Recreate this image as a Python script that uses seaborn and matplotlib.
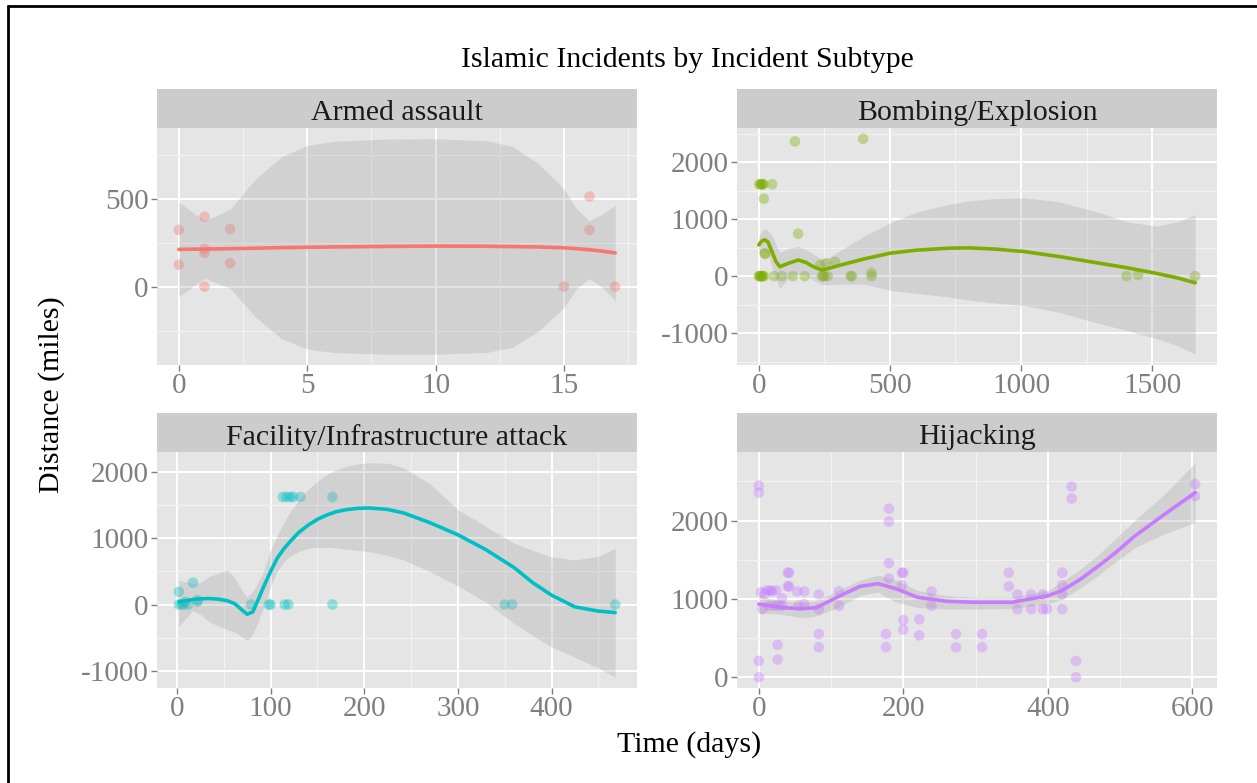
import numpy as np
import pandas as pd
import seaborn as sns
import matplotlib.pyplot as plt
from matplotlib.lines import Line2D
from matplotlib.ticker import MultipleLocator

# --- Armed assault ---
aa_x = [0, 0, 1, 1, 1, 1, 2, 2, 15, 16, 16, 17]
aa_y = [323, 125, 398, 215, 192, 0, 329, 133, 0, 513, 323, 0]
aa_sx = [0, 1, 2, 3, 4, 5, 6, 8, 10, 12, 13, 14, 15, 15.5, 16, 16.5, 17]
aa_fit = [212, 214, 216, 219, 222, 224, 226, 229, 231, 230, 228, 226, 221, 216, 210, 202, 192]
aa_hi = [481, 375, 442, 615, 740, 804, 827, 840, 842, 831, 798, 702, 558, 442, 375, 413, 465]
aa_lo = [-58, 48, -10, -175, -296, -356, -375, -385, -385, -375, -345, -255, -120, -10, 45, -5, -80]

# --- Bombing/Explosion ---
bo_x = [2, 6, 10, 14, 18, 51, 19, 22, 25, 138, 398, 150, 0, 3, 6, 9, 12, 15, 20,
        58, 88, 130, 175, 240, 245, 250, 262, 350, 355, 430, 430, 233, 255, 291,
        1402, 1446, 1664]
bo_y = [1612, 1612, 1612, 1612, 1612, 1612, 1358, 402, 390, 2363, 2410, 744,
        0, 0, 0, 0, 0, 0, 0, 0, 0, 0, 0, 0, 0, 0, 0, 0, 0, 0, 59, 195, 224, 254,
        0, 18, 0]
bo_sx = [0, 10, 22, 35, 50, 65, 80, 110, 150, 180, 210, 240, 270, 300, 400, 500,
         600, 721, 800, 900, 1012, 1150, 1303, 1400, 1520, 1600, 1664]
bo_fit = [549, 610, 638, 600, 430, 260, 165, 220, 283, 240, 160, 106, 140, 180,
          300, 402, 455, 490, 496, 475, 431, 340, 224, 150, 45, -35, -118]
bo_hi = [700, 780, 830, 800, 720, 560, 420, 480, 520, 470, 380, 300, 330, 420,
         700, 933, 1120, 1258, 1320, 1360, 1376, 1300, 1110, 960, 874, 960, 1081]
bo_lo = [400, 440, 450, 400, 150, -60, -220, -50, 40, 10, -80, -150, -150, -140,
         -140, -248, -300, -366, -420, -470, -514, -640, -839, -950, -1100, -1230, -1370]

# --- Facility/Infrastructure attack ---
fa_x = [2, 2, 5, 7, 9, 12, 17, 22, 22, 79, 98, 100, 115, 119, 113, 117, 121, 124,
        132, 166, 166, 350, 358, 468]
fa_y = [193, 0, 0, 0, 40, 0, 330, 66, 40, 0, 0, 0, 0, 0, 1629, 1629, 1629, 1629,
        1629, 1629, 0, 0, 0, 0]
fa_sx = [2, 10, 17, 25, 34, 45, 54, 62, 70, 75, 81, 86, 91, 100, 107, 114, 120, 130,
         140, 150, 160, 170, 181, 193, 205, 225, 242, 270, 300, 330, 360, 380, 400,
         425, 450, 468]
fa_fit = [40, 60, 76, 85, 91, 80, 56, 10, -90, -147, -112, 50, 218, 500, 700, 840,
          940, 1090, 1200, 1290, 1355, 1405, 1437, 1456, 1462, 1440, 1386, 1240,
          1056, 830, 560, 330, 142, -36, -100, -122]
fa_hi = [371, 340, 320, 330, 420, 480, 523, 400, 200, 117, 200, 320, 450, 827, 1050,
         1230, 1386, 1580, 1741, 1870, 1970, 2040, 2096, 2130, 2147, 2140, 2071, 1830,
         1437, 1180, 930, 820, 720, 675, 730, 853]
fa_lo = [-340, -200, -86, -150, -260, -330, -380, -420, -500, -543, -450, -289, -100,
         269, 500, 640, 726, 800, 853, 865, 868, 856, 838, 820, 800, 740, 675, 500, 282,
         35, -289, -470, -645, -800, -960, -1102]

# --- Hijacking ---
hi_x = [0, 0, 0, 0, 3, 5, 8, 11, 13, 16, 18, 21, 24, 26, 26, 26, 32, 32, 40, 42, 40,
        42, 53, 55, 63, 63, 83, 83, 83, 83, 111, 111, 176, 176, 180, 180, 180, 180,
        198, 200, 198, 200, 200, 222, 222, 239, 239, 273, 273, 309, 309, 346, 346,
        358, 358, 377, 377, 393, 393, 399, 420, 420, 420, 420, 433, 433, 439, 439,
        604, 604]
hi_y = [2448, 2357, 209, 0, 1087, 870, 1065, 1109, 913, 1109, 1096, 913, 1109, 913,
        413, 226, 1009, 913, 1335, 1335, 1161, 1161, 1096, 913, 1096, 935, 1057, 870,
        552, 383, 1096, 913, 552, 383, 2152, 1987, 1457, 1261, 1335, 1335, 1174, 730,
        609, 739, 535, 1096, 913, 552, 383, 552, 383, 1335, 1161, 1057, 870, 1057,
        870, 1057, 870, 870, 1335, 1174, 1057, 870, 2435, 2283, 209, 0, 2465, 2313]
hi_sx = [0, 30, 60, 80, 110, 140, 165, 190, 220, 260, 300, 350, 400, 420, 445, 470,
         495, 520, 560, 604]
hi_fit = [935, 891, 875, 890, 1030, 1160, 1196, 1130, 1020, 970, 957, 957, 1040, 1109,
          1250, 1420, 1600, 1800, 2070, 2357]
hi_hi = [1043, 978, 957, 978, 1109, 1239, 1304, 1239, 1109, 1043, 1022, 1022, 1109,
         1217, 1380, 1565, 1780, 2000, 2326, 2739]
hi_lo = [826, 804, 761, 783, 891, 1043, 1087, 957, 891, 870, 870, 878, 935, 1000,
         1140, 1304, 1480, 1652, 1826, 1978]

titles = ['Armed assault', 'Bombing/Explosion', 'Facility/Infrastructure attack', 'Hijacking']
colors = ['#F8766D', '#7CAE00', '#00BFC4', '#C77CFF']

sns.set_theme(style='darkgrid', rc={
    'axes.facecolor': '#E5E5E5',
    'figure.facecolor': 'white',
    'axes.unicode_minus': False,
})
plt.rcParams['font.family'] = ['Liberation Serif', 'DejaVu Serif']

W, H = 1257, 783
fig = plt.figure(figsize=(W / 100, H / 100), dpi=100)


def box(x0, y0, x1, y1):
    return [x0 / W, 1 - y1 / H, (x1 - x0) / W, (y1 - y0) / H]


panels = [
    (aa_x, aa_y, aa_sx, aa_fit, aa_lo, aa_hi, 5, 500, (157, 89, 637, 128, 365)),
    (bo_x, bo_y, bo_sx, bo_fit, bo_lo, bo_hi, 500, 1000, (737, 89, 1217, 128, 365)),
    (fa_x, fa_y, fa_sx, fa_fit, fa_lo, fa_hi, 100, 1000, (157, 413, 637, 452, 688)),
    (hi_x, hi_y, hi_sx, hi_fit, hi_lo, hi_hi, 200, 1000, (737, 413, 1217, 452, 688)),
]

for i, (px, py, sx, fit, lo, hi, xstep, ystep, (x0, s0, x1, p0, p1)) in enumerate(panels):
    # strip
    sax = fig.add_axes(box(x0, s0, x1, p0))
    sax.set_facecolor('#CCCCCC')
    sax.set_xticks([])
    sax.set_yticks([])
    sax.grid(False)
    for sp in sax.spines.values():
        sp.set_visible(False)
    sax.text(0.5, 0.38, titles[i], ha='center', va='center', fontsize=21.5,
             color='#1A1A1A', transform=sax.transAxes)

    ax = fig.add_axes(box(x0, p0, x1, p1))
    sns.scatterplot(x=px, y=py, ax=ax, color=colors[i], alpha=0.38, s=58,
                    edgecolor='none', zorder=3)
    ax.fill_between(sx, lo, hi, color='#999999', alpha=0.25, lw=0, zorder=4)
    sns.lineplot(x=sx, y=fit, ax=ax, color=colors[i], lw=2.6, zorder=5)

    xmin, xmax = min(px + sx), max(px + sx)
    ymin, ymax = min(py + lo), max(py + hi)
    dx, dy = (xmax - xmin) * 0.05, (ymax - ymin) * 0.05
    ax.set_xlim(xmin - dx, xmax + dx)
    ax.set_ylim(ymin - dy, ymax + dy)

    ax.xaxis.set_major_locator(MultipleLocator(xstep))
    ax.xaxis.set_minor_locator(MultipleLocator(xstep / 2))
    ax.yaxis.set_major_locator(MultipleLocator(ystep))
    ax.yaxis.set_minor_locator(MultipleLocator(ystep / 2))
    ax.grid(which='minor', color='#F2F2F2', lw=0.9)
    ax.grid(which='major', color='white', lw=1.4)
    ax.set_axisbelow(True)
    for sp in ax.spines.values():
        sp.set_visible(False)
    ax.tick_params(which='major', length=4, width=1, color='#7F7F7F',
                   labelcolor='#7F7F7F', labelsize=21, pad=2,
                   bottom=True, left=True)
    ax.tick_params(which='minor', length=0)
    ax.set_xlabel('')
    ax.set_ylabel('')

fig.text(687 / W, 1 - 60 / H, 'Islamic Incidents by Incident Subtype',
         ha='center', va='center', fontsize=21.5, color='black')
fig.text(689 / W, 1 - 745 / H, 'Time (days)', ha='center', va='center',
         fontsize=21.5, color='black')
fig.text(52 / W, 1 - 395 / H, 'Distance (miles)', ha='center', va='center',
         rotation=90, fontsize=21.5, color='black')

# frame lines (top and left edge of the screenshot)
fig.add_artist(Line2D([7.5 / W, 1], [1 - 5.5 / H, 1 - 5.5 / H], color='black', lw=2,
                      transform=fig.transFigure))
fig.add_artist(Line2D([7.5 / W, 7.5 / W], [0, 1 - 5.5 / H], color='black', lw=2,
                      transform=fig.transFigure))

fig.savefig('out.png', dpi=100)
